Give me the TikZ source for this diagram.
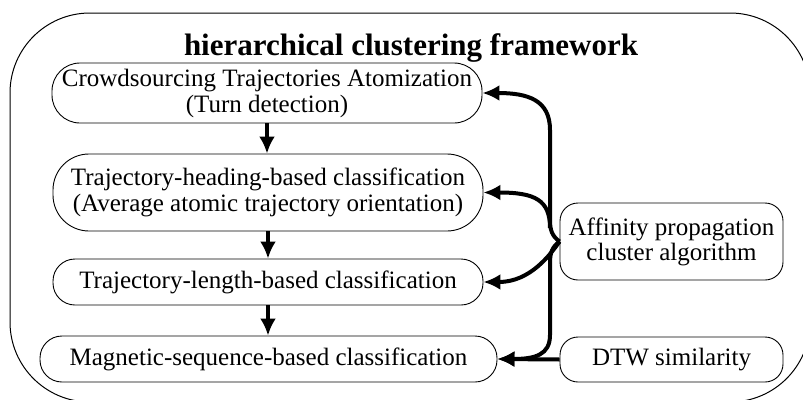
\documentclass[tikz,border=0pt]{standalone}
\usepackage{fontspec}
\setmainfont{Liberation Serif}
\usetikzlibrary{arrows.meta}
\tikzset{
 hcf frame/.style={draw,line width=1pt,rounded corners=80pt},
 hcf title/.style={font=\fontsize{31}{31}\selectfont\bfseries},
 hcf stage/.style={draw,line width=0.9pt,rounded corners=#1,inner sep=0pt,
                   align=center,font=\fontsize{25}{26}\selectfont},
 hcf tool/.style={draw,line width=0.9pt,rounded corners=18pt,inner sep=0pt,
                  align=center,minimum width=223pt,font=\fontsize{25}{25}\selectfont},
 hcf flow/.style={line width=4pt,-{Latex[length=17pt,width=16pt]}}
}
\begin{document}
\begin{tikzpicture}[x=1pt,y=-1pt]
 \clip (0,0) rectangle (803,399);
 \draw[hcf frame] (10,13) rectangle (810,402);
 \node[hcf title,anchor=base] (title) at (411,55) {hierarchical clustering framework};

 \node[hcf stage=28pt,minimum width=430pt,minimum height=60pt] (atom) at (267,93)
   {Crowdsourcing Trajectories Atomization\\(Turn detection)};
 \node[hcf stage=36pt,minimum width=430pt,minimum height=77pt] (heading) at (268,192.5)
   {Trajectory-heading-based classification\\(Average atomic trajectory orientation)};
 \node[hcf stage=22pt,minimum width=430pt,minimum height=46pt] (length) at (268,282)
   {Trajectory-length-based classification};
 \node[hcf stage=22pt,minimum width=457pt,minimum height=46pt] (magnetic) at (268.5,359)
   {Magnetic-sequence-based classification};

 \node[hcf tool,minimum height=77pt] (ap) at (671.5,241.5) {Affinity propagation\\cluster algorithm};
 \node[hcf tool,minimum height=45pt] (dtw) at (671.5,359.5) {DTW similarity};

 \draw[hcf flow] (atom.south) -- (atom.south |- heading.north);
 \draw[hcf flow] (heading.south) -- (heading.south |- length.north);
 \draw[hcf flow] (length.south) -- (length.south |- magnetic.north);

 % brace out of the affinity box, one branch per stage
 \draw[hcf flow] (ap.west) .. controls (552,236) and (550,230) .. (550,220) -- (550,130)
   .. controls (550,100) and (528,93) .. (atom.east);
 \draw[hcf flow] (550,228) .. controls (550,200) and (535,192.5) .. (heading.east);
 \draw[hcf flow] (ap.west) .. controls (550,255) and (530,282) .. (length.east);
 \draw[hcf flow] (ap.west) .. controls (552,247) and (550,253) .. (550,263) -- (550,335)
   .. controls (550,355) and (535,359) .. (magnetic.east);
 \draw[hcf flow] (dtw.west) -- (magnetic.east);
\end{tikzpicture}
\end{document}
